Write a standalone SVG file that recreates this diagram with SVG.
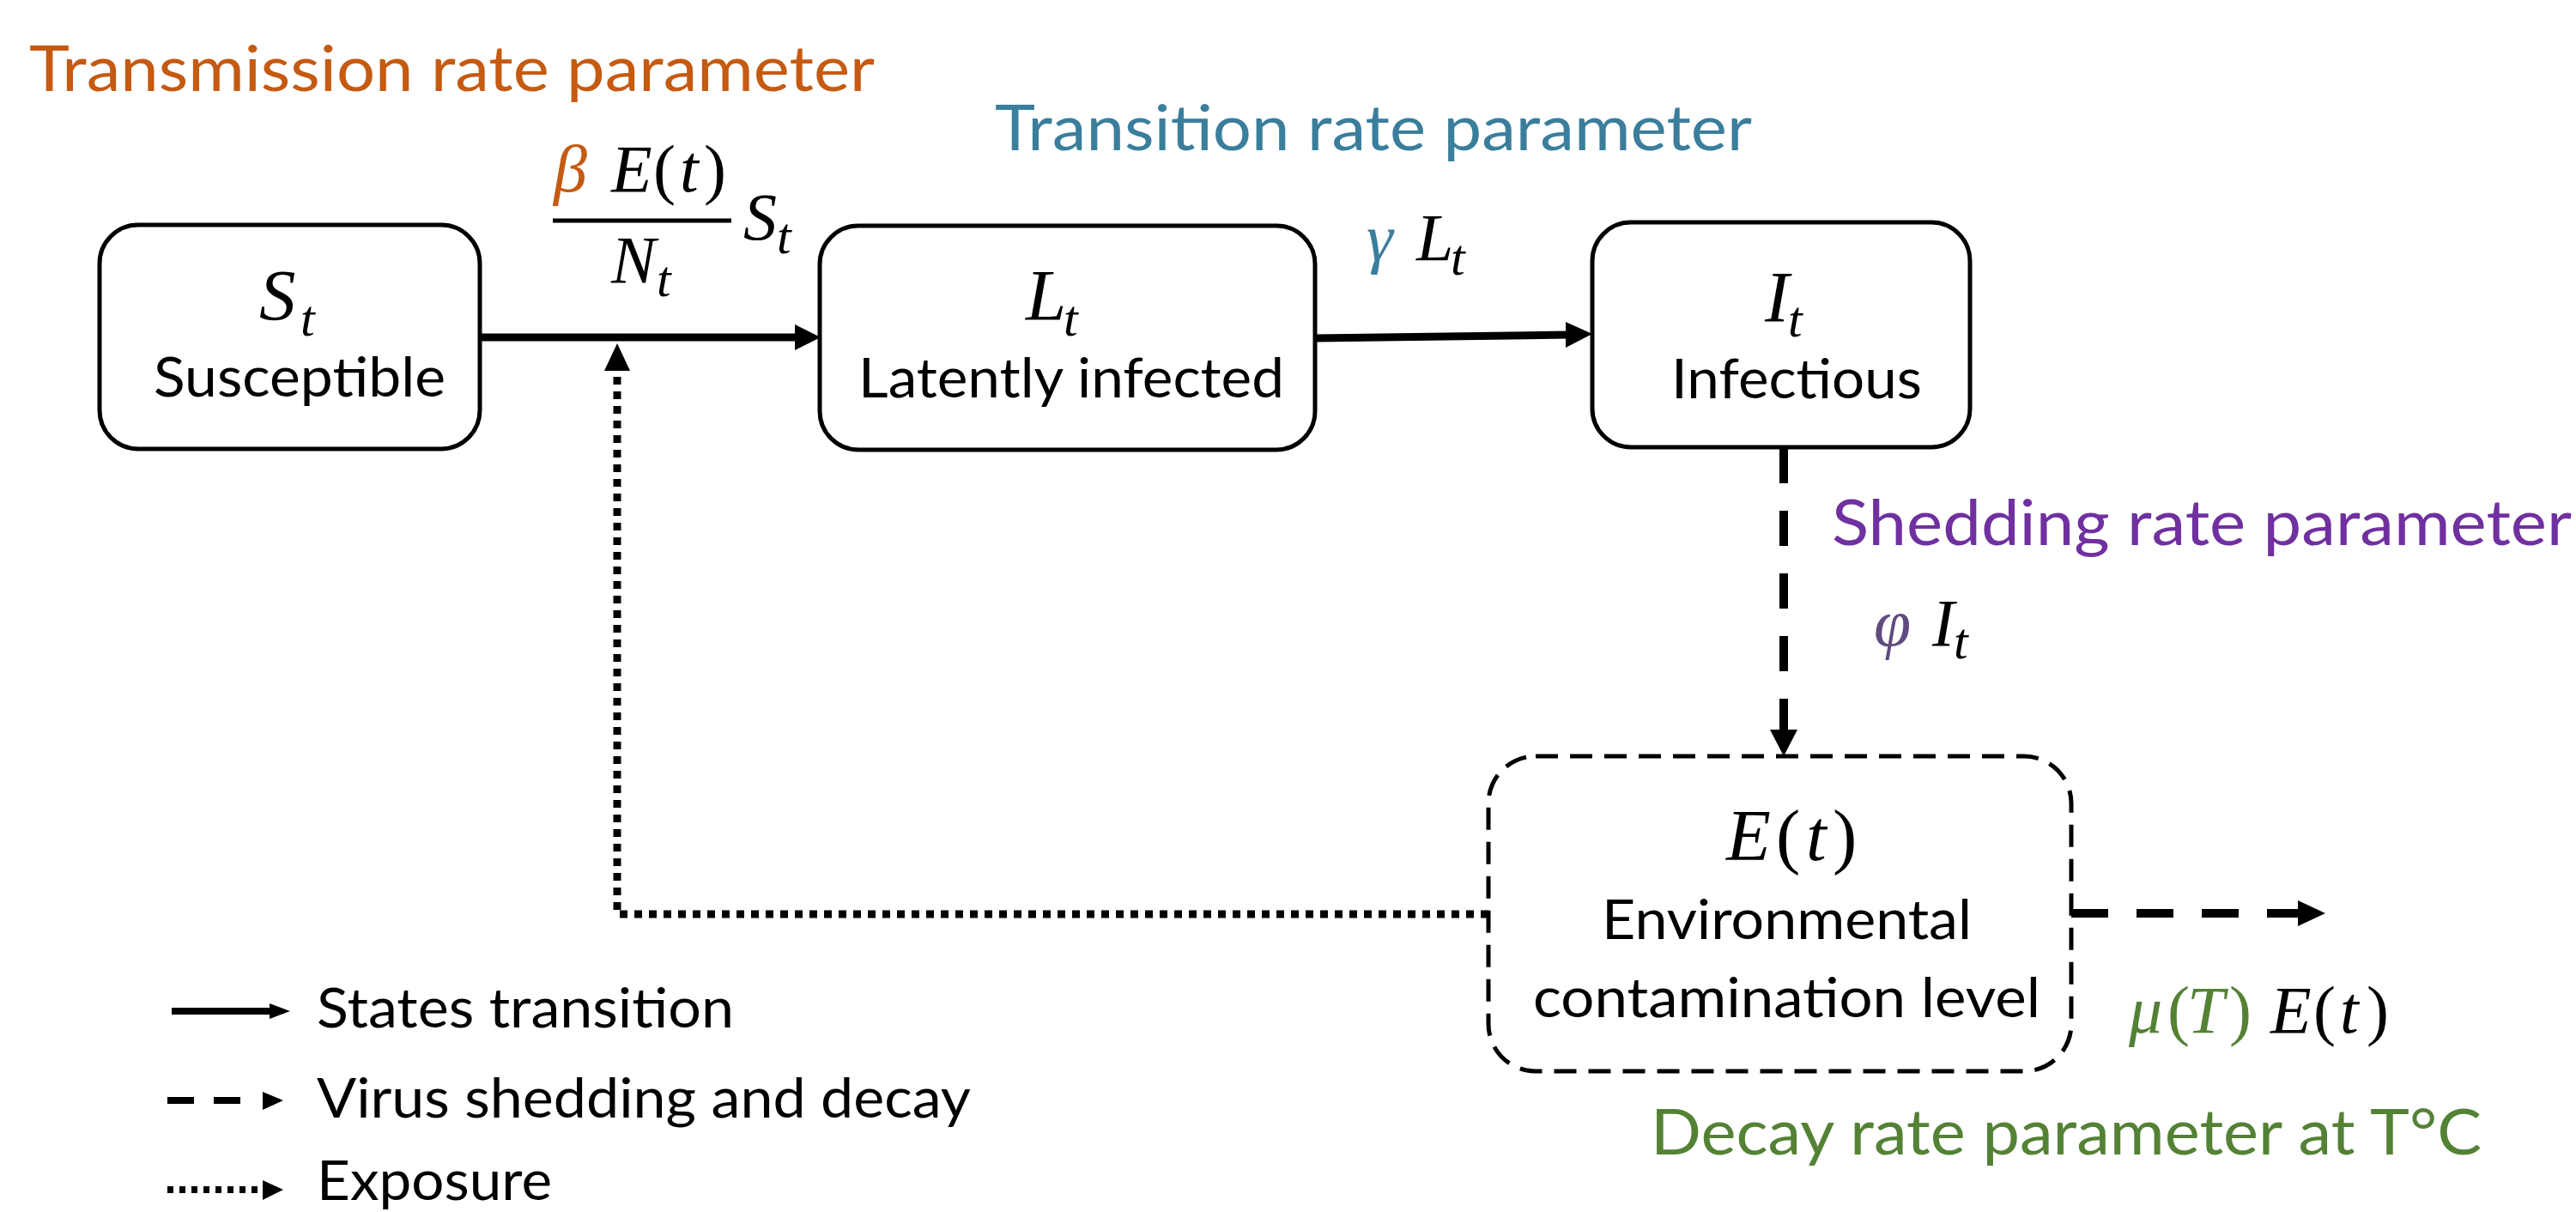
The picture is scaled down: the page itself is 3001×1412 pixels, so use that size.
<svg xmlns="http://www.w3.org/2000/svg" width="3001" height="1412" viewBox="0 0 3001 1412">
<style>
.box{fill:#fff;stroke:#000;stroke-width:5}
.dbox{fill:#fff;stroke:#000;stroke-width:5;stroke-dasharray:26 14}
.lbl{font-family:Lato,"Liberation Sans",sans-serif;font-size:64px;fill:#000}
.ttl{font-family:Lato,"Liberation Sans",sans-serif;font-size:74px}
.m{font-family:"Liberation Serif","DejaVu Serif",serif;font-style:italic}
.mb{font-size:85px}
.ms{font-size:78px}
.sub{font-size:60px}
.up{font-style:normal}
.solid{stroke:#000;stroke-width:9;fill:none}
.dash{stroke:#000;stroke-width:10;fill:none}
.dot{stroke:#000;stroke-width:9;fill:none;stroke-dasharray:9 8}
.head{fill:#000}
</style>
<rect width="3001" height="1412" fill="#fff"/>

<g id="connectors">
  <line class="solid" x1="559" y1="393" x2="930" y2="393"/>
  <polygon class="head" points="926,378 956,393 926,408"/>
  <line class="solid" x1="1532" y1="394" x2="1828" y2="390"/>
  <polygon class="head" points="1824,375 1855,389 1824,405"/>
  <line class="dash" x1="2078" y1="522" x2="2078" y2="853" stroke-dasharray="41 32"/>
  <polygon class="head" points="2062,850 2094,850 2078,881"/>
  <line class="dash" x1="2413" y1="1064" x2="2680" y2="1064" stroke-dasharray="43 33"/>
  <polygon class="head" points="2677,1049 2709,1064 2677,1079"/>
  <polyline class="dot" points="1734,1065 719,1065 719,432"/>
  <polygon class="head" points="704,432 719,400 734,432"/>
</g>

<g id="node-S">
  <rect class="box" x="116" y="262" width="443" height="261" rx="45"/>
  <text class="m mb" x="302" y="373" fill="#000">S</text>
  <text class="m sub" x="350" y="391" fill="#000">t</text>
  <text class="lbl" x="179" y="462" textLength="340" lengthAdjust="spacingAndGlyphs">Susceptible</text>
</g>

<g id="node-L">
  <rect class="box" x="955" y="263" width="577" height="261" rx="45"/>
  <text class="m mb" x="1195" y="373" fill="#000">L</text>
  <text class="m sub" x="1239" y="391" fill="#000">t</text>
  <text class="lbl" x="1000" y="463" textLength="496" lengthAdjust="spacingAndGlyphs">Latently infected</text>
</g>

<g id="node-I">
  <rect class="box" x="1855" y="259" width="440" height="262" rx="45"/>
  <text class="m mb" x="2056" y="375" fill="#000">I</text>
  <text class="m sub" x="2083" y="392" fill="#000">t</text>
  <text class="lbl" x="1947" y="464" textLength="292" lengthAdjust="spacingAndGlyphs">Infectious</text>
</g>

<g id="node-E">
  <rect class="dbox" x="1734" y="881" width="679" height="367" rx="55"/>
  <text class="m mb" y="1002" fill="#000"><tspan x="2011">E</tspan><tspan class="up" x="2069">(</tspan><tspan x="2104">t</tspan><tspan class="up" x="2135">)</tspan></text>
  <text class="lbl" x="1866" y="1094" textLength="431" lengthAdjust="spacingAndGlyphs">Environmental</text>
  <text class="lbl" x="1786" y="1185" textLength="591" lengthAdjust="spacingAndGlyphs">contamination level</text>
</g>

<g id="labels">
  <text class="ttl" x="34" y="106" fill="#C55A11" textLength="985" lengthAdjust="spacingAndGlyphs">Transmission rate parameter</text>
  <text class="ttl" x="1159" y="175" fill="#3A7E9C" textLength="882" lengthAdjust="spacingAndGlyphs">Transition rate parameter</text>
  <text class="ttl" x="2134" y="635" fill="#7030A0" textLength="862" lengthAdjust="spacingAndGlyphs">Shedding rate parameter</text>
  <text class="ttl" x="1923" y="1345" fill="#548235" textLength="968" lengthAdjust="spacingAndGlyphs">Decay rate parameter at T°C</text>

  <text class="m ms" y="223" fill="#000"><tspan x="645" fill="#C55A11">β</tspan><tspan x="712">E</tspan><tspan class="up" x="761">(</tspan><tspan x="792">t</tspan><tspan class="up" x="820">)</tspan></text>
  <line x1="644" y1="257" x2="852" y2="257" stroke="#000" stroke-width="5"/>
  <text class="m ms" x="712" y="329" fill="#000">N</text>
  <text class="m sub" x="765" y="345" fill="#000">t</text>
  <text class="m ms" x="866" y="279" fill="#000">S</text>
  <text class="m sub" x="905" y="295" fill="#000">t</text>

  <text class="m ms" x="1592" y="303" fill="#3A7E9C">γ</text>
  <text class="m ms" x="1650" y="303" fill="#000">L</text>
  <text class="m sub" x="1690" y="320" fill="#000">t</text>

  <text class="m ms" x="2183" y="752" fill="#5F4B7E">φ</text>
  <text class="m ms" x="2251" y="752" fill="#000">I</text>
  <text class="m sub" x="2276" y="767" fill="#000">t</text>

  <text class="m ms" y="1203" fill="#000"><tspan x="2480" fill="#548235">μ</tspan><tspan class="up" x="2525" fill="#548235">(</tspan><tspan x="2548" fill="#548235">T</tspan><tspan class="up" x="2597" fill="#548235">)</tspan><tspan x="2645">E</tspan><tspan class="up" x="2695">(</tspan><tspan x="2726">t</tspan><tspan class="up" x="2757">)</tspan></text>
</g>

<g id="legend">
  <line x1="200" y1="1178" x2="316" y2="1178" stroke="#000" stroke-width="8"/>
  <polygon class="head" points="314,1169 338,1178 314,1187"/>
  <line x1="195" y1="1282" x2="282" y2="1282" stroke="#000" stroke-width="8" stroke-dasharray="31 23"/>
  <polygon class="head" points="306,1272 330,1282 306,1293"/>
  <line x1="195" y1="1386" x2="306" y2="1386" stroke="#000" stroke-width="8" stroke-dasharray="7 7"/>
  <polygon class="head" points="306,1375 330,1386 306,1398"/>
  <text class="lbl" x="369" y="1197" textLength="486" lengthAdjust="spacingAndGlyphs">States transition</text>
  <text class="lbl" x="369" y="1302" textLength="762" lengthAdjust="spacingAndGlyphs">Virus shedding and decay</text>
  <text class="lbl" x="369" y="1398" textLength="274" lengthAdjust="spacingAndGlyphs">Exposure</text>
</g>
</svg>
